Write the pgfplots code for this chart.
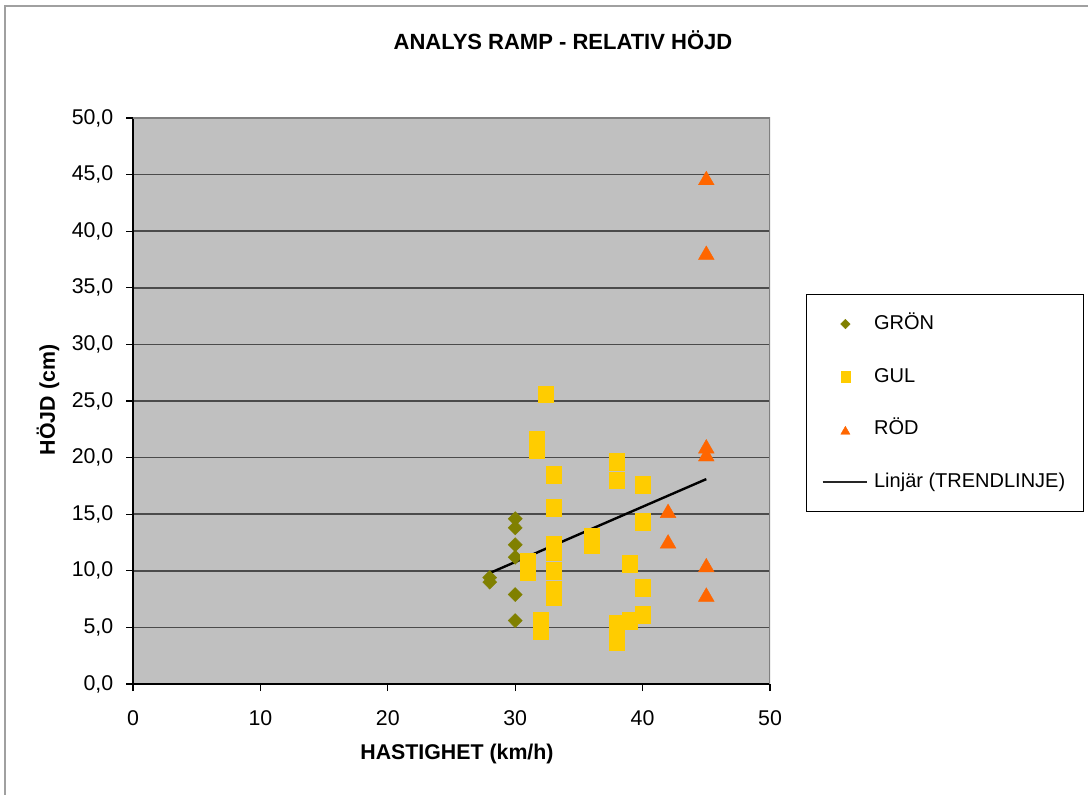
\documentclass[border=0pt]{standalone}
\usepackage{pgfplots}
\pgfplotsset{compat=1.18}
\usepackage{fontspec}
\setmainfont{Liberation Sans}

\definecolor{gron}{RGB}{128,128,0}
\definecolor{gul}{RGB}{255,204,0}
\definecolor{rod}{RGB}{255,102,0}
\definecolor{plotbg}{RGB}{192,192,192}
\definecolor{gridc}{RGB}{75,75,75}
\definecolor{framec}{RGB}{128,128,128}
\definecolor{outerc}{RGB}{160,160,160}

\pgfplotsset{
  legmarkA/.style={legend image code/.code={\draw[mark repeat=2,mark phase=2,##1,mark size=3.6pt] plot coordinates {(0pt,0pt) (17pt,0pt) (34pt,0pt)};}},
  legmarkB/.style={legend image code/.code={\draw[mark repeat=2,mark phase=2,##1,mark size=3.5pt] plot coordinates {(0pt,0pt) (17pt,0pt) (34pt,0pt)};}},
  legmarkC/.style={legend image code/.code={\draw[mark repeat=2,mark phase=2,##1,mark size=4pt] plot coordinates {(0pt,0pt) (17pt,0pt) (34pt,0pt)};}},
  leglineD/.style={legend image code/.code={\draw[##1, line width=1.1pt, black!85] (0pt,0pt) -- (33pt,0pt);}},
}

\begin{document}
\begin{tikzpicture}
\useasboundingbox (0pt,0pt) rectangle (816pt,595.5pt);
\fill[white] (0pt,0pt) rectangle (816pt,595.5pt);
\draw[outerc, line width=1.5pt] (3.75pt,-10pt) -- (3.75pt,591pt) -- (830pt,591pt);
\begin{axis}[
  at={(99.75pt,82.5pt)}, anchor=south west,
  scale only axis, width=477.75pt, height=424.5pt,
  xmin=0, xmax=50, ymin=0, ymax=50,
  xtick={0,10,...,50}, ytick={0,5,...,50},
  axis background/.style={fill=plotbg},
  axis x line=bottom, axis y line=left,
  axis line style={-, black, line width=1.1pt},
  tick align=outside, major tick length=5.25pt,
  tick style={black, line width=0.8pt},
  ymajorgrids, grid style={gridc, line width=1.3pt},
  /pgf/number format/assume math mode=true,
  tick label style={font=\fontsize{16}{19}\selectfont},
  yticklabel style={xshift=-6pt, /pgf/number format/.cd, fixed, fixed zerofill, precision=1, use comma},
  xticklabel style={yshift=-11pt},
  title={ANALYS RAMP - RELATIV HÖJD},
  title style={font=\bfseries\fontsize{16.5}{20}\selectfont, at={(0.675,1.1237)}, anchor=center},
  xlabel={HASTIGHET (km/h)},
  xlabel style={font=\bfseries\fontsize{16}{19}\selectfont, at={(0.5086,-0.123)}, anchor=center},
  ylabel={HÖJD (cm)},
  ylabel style={font=\bfseries\fontsize{16}{19}\selectfont, at={(-0.1334,0.5018)}, anchor=center},
  legend style={at={(1.0565,0.689)}, anchor=north west, draw=black, line width=1pt, fill=white,
    font=\fontsize{15}{18}\selectfont, row sep=21.5pt, column sep=3pt, inner xsep=11.5pt, inner ysep=13pt,
    nodes={inner sep=2pt, text height=11pt, text depth=3pt}},
  legend cell align=left,
]
\draw[framec, line width=1.5pt] (axis cs:0,50) -- (axis cs:50,50) -- (axis cs:50,0);

\addplot[only marks, mark=diamond*, color=gron, mark size=5.3pt,
  mark options={xscale=1.33, fill=gron, draw=gron, line width=0.3pt}, legmarkA]
coordinates {
(28,9.0) (28,9.4) (30,14.6) (30,13.8) (30,12.3) (30,11.2) (30,7.9) (30,5.6)
};
\addlegendentry{GRÖN}

\addplot[only marks, mark=square*, color=gul, mark size=5.6pt,
  mark options={yscale=1.13, fill=gul, draw=gul, line width=0.3pt}, legmarkB]
coordinates {
(32.4,25.6)
(31.7,21.6) (31.7,20.7)
(33,18.5) (33,15.6)
(33,12.3) (33,11.7)
(33,10.0)
(33,8.3) (33,7.7)
(31,10.8) (31,9.9)
(32,5.6) (32,4.7)
(36,13.0) (36,12.3)
(38,19.6) (38,18.0)
(40,17.6) (40,14.3)
(39,10.6)
(40,8.5) (40,6.1)
(39,5.6)
(38,5.3) (38,3.7)
};
\addlegendentry{GUL}

\addplot[only marks, mark=triangle*, color=rod, mark size=6.8pt,
  mark options={yshift=-1.7pt, fill=rod, draw=rod, line width=0.3pt}, legmarkC]
coordinates {
(45,44.7) (45,38.1) (45,21.0) (45,20.3) (42,15.3) (42,12.6) (45,10.5) (45,7.9)
};
\addlegendentry{RÖD}

\addplot[black, line width=1.8pt, no marks, leglineD]
coordinates {(28,9.8) (45,18.1)};
\addlegendentry{Linjär (TRENDLINJE)}
\end{axis}
\end{tikzpicture}
\end{document}
